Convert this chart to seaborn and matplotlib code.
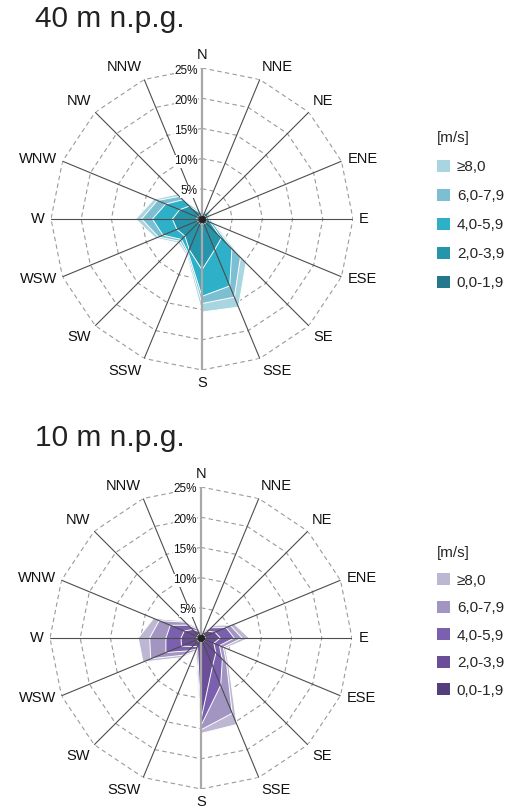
import numpy as np
import matplotlib
matplotlib.use("Agg")
import matplotlib.pyplot as plt
from matplotlib.patches import Patch
import seaborn as sns

directions = ["N", "NNE", "NE", "ENE", "E", "ESE", "SE", "SSE",
              "S", "SSW", "SW", "WSW", "W", "WNW", "NW", "NNW"]
speed_bins = ["0,0-1,9", "2,0-3,9", "4,0-5,9", "6,0-7,9", "≥8,0"]
ring_levels = [5, 10, 15, 20, 25]

# frequency [%] per direction and speed class, 40 m above ground
h40_0_2 = [0.7, 0.7, 0.8, 0.7, 0.7, 0.8, 0.9, 0.9, 0.9, 0.9, 0.8, 0.8, 0.9, 0.8, 0.8, 0.7]
h40_2_4 = [0.3, 0.3, 0.7, 0.3, 0.4, 0.7, 3.6, 4.6, 7.5, 4.6, 3.2, 3.7, 4.0, 3.2, 2.2, 0.5]
h40_4_6 = [0.1, 0.1, 0.5, 0.2, 0.2, 0.5, 2.5, 6.5, 4.4, 0.5, 0.8, 2.5, 3.3, 2.5, 1.5, 0.3]
h40_6_8 = [0.1, 0.1, 0.2, 0.1, 0.1, 0.3, 2.0, 2.0, 1.2, 0.3, 0.4, 0.8, 1.8, 1.5, 0.8, 0.2]
h40_8up = [0.1, 0.1, 0.2, 0.1, 0.1, 0.3, 1.3, 1.8, 1.4, 0.3, 0.4, 0.5, 1.0, 0.6, 0.5, 0.2]

# frequency [%] per direction and speed class, 10 m above ground
h10_0_2 = [0.7, 0.7, 0.7, 0.7, 0.7, 0.7, 0.7, 0.7, 0.7, 0.7, 0.7, 0.7, 0.7, 0.7, 0.7, 0.7]
h10_2_4 = [0.2, 0.3, 0.9, 1.8, 2.5, 1.6, 2.8, 4.3, 12.8, 0.8, 1.3, 2.8, 2.6, 2.3, 1.3, 0.5]
h10_4_6 = [0.1, 0.2, 0.8, 2.0, 2.3, 1.0, 1.5, 3.5, 1.0, 0.5, 1.0, 2.8, 2.5, 2.5, 1.0, 0.4]
h10_6_8 = [0.1, 0.2, 0.4, 0.8, 1.3, 0.7, 1.0, 5.0, 0.7, 0.3, 1.0, 2.7, 2.7, 2.0, 0.7, 0.3]
h10_8up = [0.1, 0.2, 0.2, 0.7, 1.2, 0.4, 0.5, 2.0, 0.6, 0.2, 0.6, 1.4, 1.9, 1.0, 0.3, 0.2]

teal = ["#24788b", "#2595ac", "#2db0c8", "#7dbfd2", "#a9d5e1"]
purple = ["#543f7c", "#6a4f98", "#7b60af", "#a295c1", "#bdb7d4"]

sns.set_style("white")
plt.rcParams["font.family"] = ["Liberation Sans", "DejaVu Sans"]

W, H = 513, 808
fig = plt.figure(figsize=(W / 100, H / 100), dpi=100)


def draw_rose(ax, bins, colors):
    theta = np.deg2rad(np.arange(len(directions)) * 22.5)
    theta_c = np.append(theta, theta[0])
    ax.set_theta_zero_location("N")
    ax.set_theta_direction(-1)
    ax.set_ylim(0, 25)
    ax.grid(False)
    ax.set_xticks([])
    ax.set_yticks([])
    ax.spines["polar"].set_visible(False)

    # polygonal dashed rings
    for r in ring_levels:
        ax.plot(theta_c, [r] * len(theta_c), color="#9a9a9a", lw=0.8,
                dashes=(4, 3), zorder=1)

    # stacked speed classes, outer first
    cum = np.cumsum(np.array(bins), axis=0)
    for k in range(len(bins) - 1, -1, -1):
        vals = np.append(cum[k], cum[k][0])
        ax.fill(theta_c, vals, facecolor=colors[k], edgecolor="white",
                lw=0.7, zorder=2 + (len(bins) - k))

    # spokes
    for t, d in zip(theta, directions):
        if d in ("N", "S"):
            ax.plot([t, t], [0, 25], color="#a8a8a8", lw=1.6, zorder=10)
        else:
            ax.plot([t, t], [0, 25], color="#4d4d4d", lw=0.8, zorder=10)
    ax.plot([0], [0], "o", color="#222222", ms=4, zorder=11)

    # direction labels
    for t, d in zip(theta, directions):
        s, c = np.sin(t), np.cos(t)
        ha = "left" if s > 0.1 else ("right" if s < -0.1 else "center")
        va = "bottom" if c > 0.5 else ("top" if c < -0.5 else "center")
        ax.annotate(d, xy=(t, 25), xytext=(4.5 * s, 4.5 * c),
                    textcoords="offset points", ha=ha, va=va,
                    fontsize=10.5, color="#111111", annotation_clip=False)

    # ring labels
    for r in ring_levels:
        ax.annotate(f"{r}%", xy=(0, r), xytext=(-3, -1.8),
                    textcoords="offset points", ha="right", va="center",
                    fontsize=8.5, color="#111111", annotation_clip=False,
                    bbox=dict(fc="white", ec="none", pad=0.3), zorder=12)


def add_legend(colors, top_px, spacing):
    handles = [Patch(facecolor=colors[k], edgecolor="none")
               for k in range(len(speed_bins) - 1, -1, -1)]
    labels = speed_bins[::-1]
    fig.legend(handles, labels, title="[m/s]", loc="upper left",
               bbox_to_anchor=(437 / W, 1 - top_px / H), frameon=False,
               fontsize=11, title_fontsize=11, alignment="left",
               handlelength=0.85, handleheight=0.85, handletextpad=0.45,
               labelspacing=spacing, borderpad=0, borderaxespad=0)


R = 151
ax1 = fig.add_axes([(202 - R) / W, (H - 219 - R) / H, 2 * R / W, 2 * R / H],
                   projection="polar")
draw_rose(ax1, [h40_0_2, h40_2_4, h40_4_6, h40_6_8, h40_8up], teal)
fig.text(35 / W, 1 - 19 / H, "40 m n.p.g.", fontsize=21.5, color="#222222",
         ha="left", va="center")
add_legend(teal, 131, 0.96)

ax2 = fig.add_axes([(201 - R) / W, (H - 638 - R) / H, 2 * R / W, 2 * R / H],
                   projection="polar")
draw_rose(ax2, [h10_0_2, h10_2_4, h10_4_6, h10_6_8, h10_8up], purple)
fig.text(35 / W, 1 - 438 / H, "10 m n.p.g.", fontsize=21.5, color="#222222",
         ha="left", va="center")
add_legend(purple, 546, 0.86)

fig.savefig("out.png", dpi=100)
